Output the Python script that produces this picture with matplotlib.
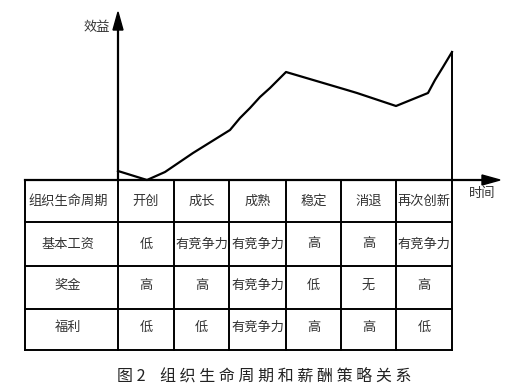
import matplotlib.pyplot as plt
from matplotlib.patches import FancyArrow

plt.rcParams['font.family'] = ['Noto Sans CJK SC', 'DejaVu Sans']

# stages and table contents
stages = ['开创', '成长', '成熟', '稳定', '消退', '再次创新']
row_names = ['组织生命周期', '基本工资', '奖金', '福利']
base_pay = ['低', '有竞争力', '有竞争力', '高', '高', '有竞争力']
bonus = ['高', '高', '有竞争力', '低', '无', '高']
welfare = ['低', '低', '有竞争力', '高', '高', '低']

# benefit curve (figure pixel units)
curve_x = [118, 147, 165, 193, 230, 240, 250, 260, 270, 286, 347, 357, 396, 428, 435, 443, 452]
curve_y = [171, 180, 172, 153, 130, 118, 108, 97, 88, 72, 90, 93, 106, 93, 80, 67, 52]

# layout (pixels)
col_edges = [25, 118, 174, 229, 286, 341, 396, 452]
row_edges = [180, 222, 266, 309, 350]

fig = plt.figure(figsize=(5.2, 3.9), dpi=100)
ax = fig.add_axes([0, 0, 1, 1])
ax.set_xlim(0, 520)
ax.set_ylim(390, 0)
ax.axis('off')

# table grid
lw = 1.4
for y in row_edges[1:]:
    ax.plot([col_edges[0], col_edges[-1]], [y, y], color='black', lw=lw)
for x in col_edges:
    ax.plot([x, x], [row_edges[0], row_edges[-1]], color='black', lw=lw)

# axes with arrows
ax.plot([col_edges[0], 484], [180, 180], color='black', lw=1.6)
ax.plot([118, 118], [180, 30], color='black', lw=1.6)
ax.add_patch(FancyArrow(482, 180, 18, 0, width=0.1, head_width=10, head_length=18,
                        length_includes_head=True, color='black'))
ax.add_patch(FancyArrow(118, 32, 0, -20, width=0.1, head_width=10, head_length=18,
                        length_includes_head=True, color='black'))
ax.text(97, 27, '效益', ha='center', va='center', fontsize=9.5, color='#333333')
ax.text(482, 194, '时间', ha='center', va='center', fontsize=9.5, color='#333333')

# benefit curve and right closing line
ax.plot(curve_x, curve_y, color='black', lw=1.6)
ax.plot([452, 452], [180, 52], color='black', lw=1.4)

# cell text
tc = '#333333'
fs = 9.5
rows = [stages, base_pay, bonus, welfare]
row_off = [0, 0, -2, -2]
for r, vals in enumerate(rows):
    yc = (row_edges[r] + row_edges[r + 1]) / 2 + row_off[r]
    if r == 0:
        ax.text(28, yc, row_names[r], ha='left', va='center', fontsize=fs, color=tc)
    else:
        ax.text(68, yc, row_names[r], ha='center', va='center', fontsize=fs, color=tc)
    for c, v in enumerate(vals):
        xc = (col_edges[c + 1] + col_edges[c + 2]) / 2
        ax.text(xc, yc, v, ha='center', va='center', fontsize=fs, color=tc)

# caption
ax.text(264, 376, '图 2    组 织 生 命 周 期 和 薪 酬 策 略 关 系', ha='center', va='center',
        fontsize=11.5, color='#222222', fontweight='medium')

fig.savefig('out.png', dpi=100)
